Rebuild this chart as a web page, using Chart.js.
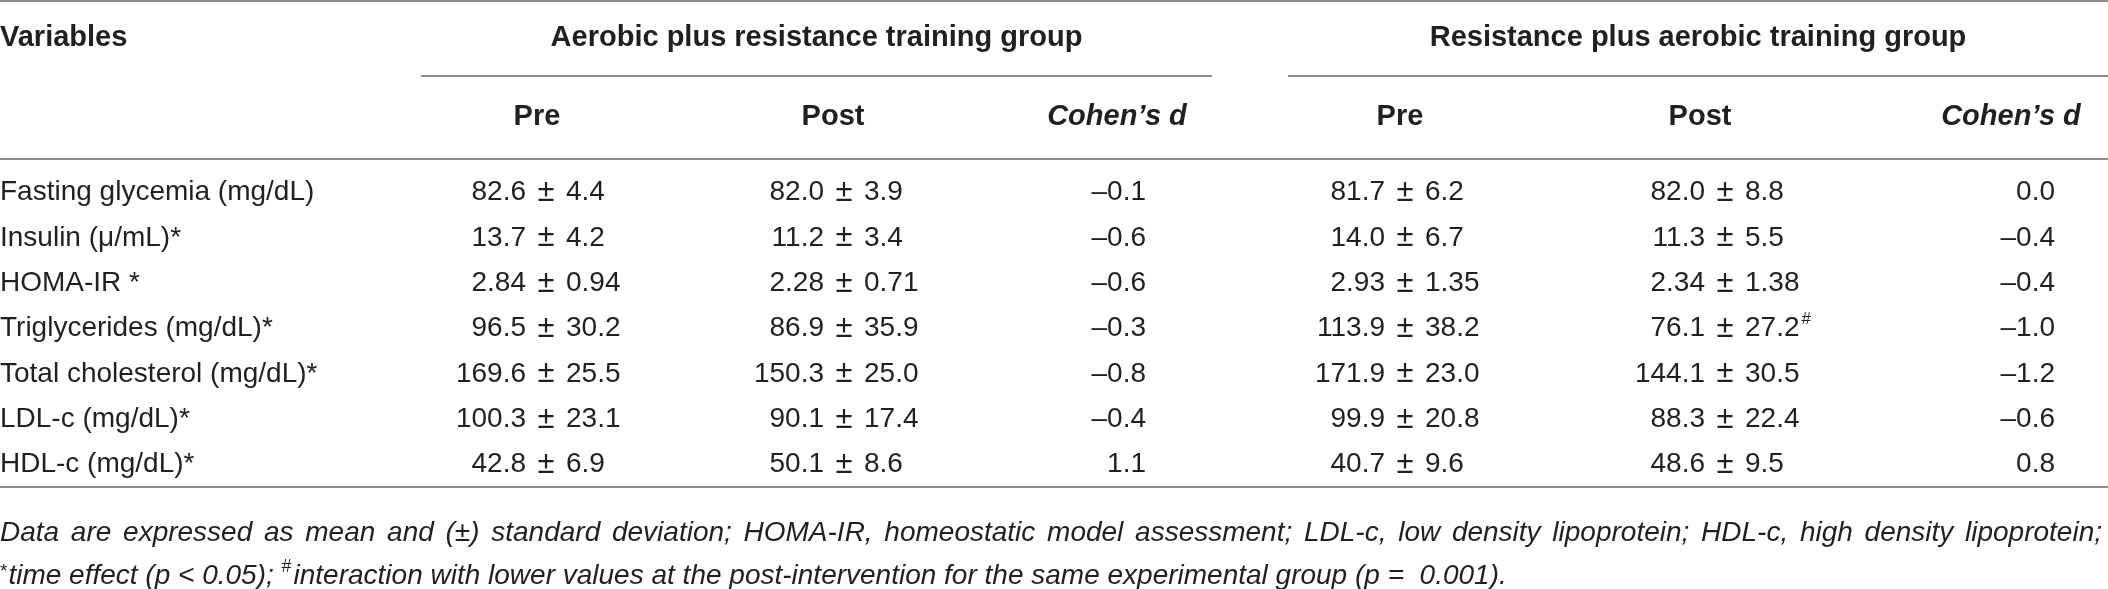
<!DOCTYPE html>
<html>
<head>
<meta charset="utf-8">
<script src="https://cdn.jsdelivr.net/npm/chart.js@4.4.1/dist/chart.umd.min.js"></script>
<style>
  html, body { margin: 0; padding: 0; background: #fff; }
  #wrap { width: 2108px; height: 589px; }
</style>
</head>
<body>
<div id="wrap"><canvas id="tbl" width="2108" height="589"></canvas></div>
<script>
// rows and headings
var variables = ['Fasting glycemia (mg/dL)', 'Insulin (\u03bc/mL)*', 'HOMA-IR *', 'Triglycerides (mg/dL)*',
    'Total cholesterol (mg/dL)*', 'LDL-c (mg/dL)*', 'HDL-c (mg/dL)*'];
var decimals = [1, 1, 2, 1, 1, 1, 1];
var groups = ['Aerobic plus resistance training group', 'Resistance plus aerobic training group'];
var colHeads = ['Pre', 'Post', 'Cohen\u2019s d'];

// aerobic plus resistance training group
var arPreMean = [82.6, 13.7, 2.84, 96.5, 169.6, 100.3, 42.8];
var arPreSd = [4.4, 4.2, 0.94, 30.2, 25.5, 23.1, 6.9];
var arPostMean = [82.0, 11.2, 2.28, 86.9, 150.3, 90.1, 50.1];
var arPostSd = [3.9, 3.4, 0.71, 35.9, 25.0, 17.4, 8.6];
var arD = [-0.1, -0.6, -0.6, -0.3, -0.8, -0.4, 1.1];

// resistance plus aerobic training group
var raPreMean = [81.7, 14.0, 2.93, 113.9, 171.9, 99.9, 40.7];
var raPreSd = [6.2, 6.7, 1.35, 38.2, 23.0, 20.8, 9.6];
var raPostMean = [82.0, 11.3, 2.34, 76.1, 144.1, 88.3, 48.6];
var raPostSd = [8.8, 5.5, 1.38, 27.2, 30.5, 22.4, 9.5];
var raPostMark = ['', '', '', '#', '', '', ''];
var raD = [0.0, -0.4, -0.4, -1.0, -1.2, -0.6, 0.8];

var footLine1 = 'Data are expressed as mean and (\u00b1) standard deviation; HOMA-IR, homeostatic model assessment; ' +
    'LDL-c, low density lipoprotein; HDL-c, high density lipoprotein;';
var footLine2a = 'time effect (p < 0.05); ';
var footLine2b = 'interaction with lower values at the post-intervention for the same experimental group (p =  0.001).';

// layout: column anchors on the x scale (± sign for mean/sd cells, right edge for d cells)
var colAnchor = [546, 844, 1146, 1405, 1725, 2055];
var headCenter = [537, 833, 1117, 1400, 1700, 2011];
var groupSpan = [[421, 1212], [1288, 2108]];

// look
var ink = '#231f20';
var ruleColor = '#8c8c8c';
var face = '"Liberation Sans", Arial, Helvetica, sans-serif';
var size = 28;
var headSize = 29;

function fmtD(v) {
    var s = Math.abs(v).toFixed(1);
    return v < 0 ? '\u2013' + s : s;
}

function pmSet(label, col, means, sds, marks) {
    return {
        label: label, kind: 'pm', means: means, sds: sds, marks: marks || [],
        data: variables.map(function (v) { return { x: colAnchor[col], y: v }; }),
        pointRadius: 0
    };
}

function dSet(label, col, vals) {
    return {
        label: label, kind: 'd', values: vals,
        data: variables.map(function (v) { return { x: colAnchor[col], y: v }; }),
        pointRadius: 0
    };
}

// draw one line stretched to a given width (justified)
function justify(ctx, text, x, y, width) {
    var words = text.split(' ');
    var total = 0;
    words.forEach(function (w) { total += ctx.measureText(w).width; });
    var gap = (width - total) / (words.length - 1);
    var cx = x;
    words.forEach(function (w) {
        ctx.fillText(w, cx, y);
        cx += ctx.measureText(w).width + gap;
    });
}

var tablePlugin = {
    id: 'tableText',
    afterDatasetsDraw: function (chart) {
        var ctx = chart.ctx;
        var area = chart.chartArea;
        var xs = chart.scales.x;
        var ys = chart.scales.y;
        var W = chart.width;

        ctx.save();
        ctx.fillStyle = ink;
        ctx.textBaseline = 'middle';

        // rules
        ctx.strokeStyle = ruleColor;
        ctx.lineWidth = 2;
        function hline(x1, x2, y) {
            ctx.beginPath(); ctx.moveTo(x1, y); ctx.lineTo(x2, y); ctx.stroke();
        }
        hline(0, W, 1);
        hline(0, W, 159);
        hline(0, W, area.bottom);

        // group headings with underlines
        ctx.font = 'bold ' + headSize + 'px ' + face;
        ctx.textAlign = 'left';
        ctx.fillText('Variables', 0, 38);
        groupSpan.forEach(function (sp, g) {
            var a = xs.getPixelForValue(sp[0]);
            var b = xs.getPixelForValue(sp[1]);
            ctx.textAlign = 'center';
            ctx.fillText(groups[g], (a + b) / 2, 38);
            hline(a, b, 76);
        });

        // column headings
        headCenter.forEach(function (hc, c) {
            var k = c % 3;
            ctx.font = (k === 2 ? 'italic bold ' : 'bold ') + headSize + 'px ' + face;
            ctx.textAlign = 'center';
            ctx.fillText(colHeads[k], xs.getPixelForValue(hc), 117);
        });

        // row labels from the y scale
        ctx.font = size + 'px ' + face;
        ctx.textAlign = 'left';
        ys.getLabels().forEach(function (lab, i) {
            ctx.fillText(lab, area.left, ys.getPixelForValue(i));
        });

        // cells
        chart.data.datasets.forEach(function (ds, di) {
            var meta = chart.getDatasetMeta(di);
            meta.data.forEach(function (pt, i) {
                var x = pt.x, y = pt.y;
                ctx.font = size + 'px ' + face;
                if (ds.kind === 'pm') {
                    var m = ds.means[i].toFixed(decimals[i]);
                    var s = ds.sds[i].toFixed(decimals[i]);
                    var half = 20;
                    ctx.textAlign = 'right';
                    ctx.fillText(m, x - half, y);
                    ctx.textAlign = 'left';
                    ctx.fillText(s, x + half, y);
                    if (ds.marks[i]) {
                        var w = ctx.measureText(s).width;
                        ctx.font = '17px ' + face;
                        ctx.fillText(ds.marks[i], x + half + w + 2, y - 9);
                    }
                    ctx.font = '31px ' + face;
                    ctx.textAlign = 'center';
                    ctx.fillText('\u00b1', x, y);
                } else {
                    ctx.textAlign = 'right';
                    ctx.fillText(fmtD(ds.values[i]), x, y);
                }
            });
        });

        // footnote
        ctx.textAlign = 'left';
        ctx.font = 'italic ' + size + 'px ' + face;
        justify(ctx, footLine1, 0, 533, 2102);
        var fx = 0;
        ctx.font = '19px ' + face;
        ctx.fillText('*', fx, 572);
        fx += ctx.measureText('*').width + 1;
        ctx.font = 'italic ' + size + 'px ' + face;
        ctx.fillText(footLine2a, fx, 576);
        fx += ctx.measureText(footLine2a).width;
        ctx.font = '18px ' + face;
        ctx.fillText('#', fx, 567);
        fx += ctx.measureText('#').width + 2;
        ctx.font = 'italic ' + size + 'px ' + face;
        ctx.fillText(footLine2b, fx, 576);

        ctx.restore();
    }
};

var ctx = document.getElementById('tbl');

var table = new Chart(ctx, {
    type: 'scatter',
    data: {
        datasets: [
            pmSet('Aerobic plus resistance Pre', 0, arPreMean, arPreSd),
            pmSet('Aerobic plus resistance Post', 1, arPostMean, arPostSd),
            dSet('Aerobic plus resistance d', 2, arD),
            pmSet('Resistance plus aerobic Pre', 3, raPreMean, raPreSd),
            pmSet('Resistance plus aerobic Post', 4, raPostMean, raPostSd, raPostMark),
            dSet('Resistance plus aerobic d', 5, raD)
        ]
    },
    options: {
        responsive: false,
        animation: false,
        devicePixelRatio: 1,
        layout: { padding: { top: 170, bottom: 102, left: 0, right: 0 } },
        scales: {
            x: { type: 'linear', min: 0, max: 2108, display: false },
            y: { type: 'category', labels: variables, offset: true, display: false }
        },
        plugins: {
            legend: { display: false },
            tooltip: { enabled: false }
        }
    },
    plugins: [tablePlugin]
});
</script>
</body>
</html>
